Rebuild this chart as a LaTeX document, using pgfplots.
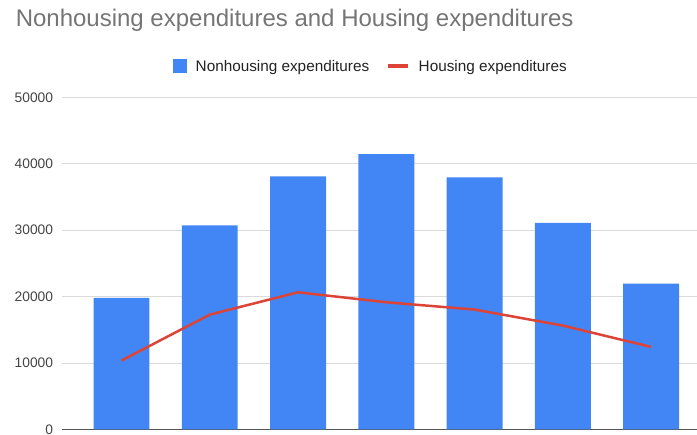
\documentclass[border=0pt]{standalone}
\usepackage{pgfplots}
\pgfplotsset{compat=1.18}
\usepackage{fontspec}
\setmainfont{Liberation Sans}
\definecolor{gblue}{HTML}{4285F4}
\definecolor{gred}{HTML}{DB4437}
\definecolor{titlegray}{HTML}{757575}
\definecolor{ticklabel}{HTML}{444444}
\definecolor{legendtext}{HTML}{222222}
\definecolor{gridgray}{HTML}{DADADA}
\definecolor{basegray}{HTML}{555555}
\begin{document}
\begin{tikzpicture}
\path[use as bounding box] (0,0) rectangle (697pt,435pt);
\begin{axis}[
  at={(62pt,5.5pt)}, anchor=south west,
  scale only axis, width=635pt, height=332.2pt,
  xmin=-0.674, xmax=6.52, ymin=0, ymax=50000,
  xtick=\empty,
  ytick={0,10000,20000,30000,40000,50000},
  scaled y ticks=false,
  extra y ticks={0}, extra y tick labels={},
  extra y tick style={grid=major, major grid style={draw=basegray, line width=1.2pt}},
  ymajorgrids, major grid style={draw=gridgray, line width=0.9pt},
  major tick length=0pt,
  axis line style={draw=none},
  /pgf/number format/assume math mode=true,
  /pgf/number format/1000 sep={},
  yticklabel style={font=\fontsize{13.8}{16}\selectfont, text=ticklabel, inner sep=0pt, anchor=east, xshift=-8.7pt},
  title={Nonhousing expenditures and Housing expenditures},
  title style={at={(axis description cs:-0.0731,1.1963)}, anchor=base west, inner sep=0pt, font=\fontsize{24}{28}\selectfont, text=titlegray},
  legend columns=-1,
  legend style={draw=none, fill=none, at={(axis description cs:0.485,1.0938)}, anchor=center,
    font=\fontsize{15.3}{18}\selectfont, text=legendtext, nodes={inner sep=0pt},
    /tikz/every odd column/.append style={column sep=8.5pt},
    /tikz/every even column/.append style={column sep=17pt}},
]
\addplot[ybar, bar width=0.634, fill=gblue, draw=none,
  legend image code/.code={\fill[gblue] (0pt,-6.5pt) rectangle (14pt,7pt);}]
  coordinates {(0,19800) (1,30720) (2,38090) (3,41450) (4,37940) (5,31080) (6,21950)};
\addlegendentry{Nonhousing expenditures}
\addplot[gred, line width=2.5pt, line join=round,
  legend image code/.code={\draw[gred, line width=4pt] (0pt,0pt) -- (20pt,0pt);}]
  coordinates {(0,10380) (1,17290) (2,20650) (3,19150) (4,18050) (5,15640) (6,12430)};
\addlegendentry{Housing expenditures}
\end{axis}
\end{tikzpicture}
\end{document}
